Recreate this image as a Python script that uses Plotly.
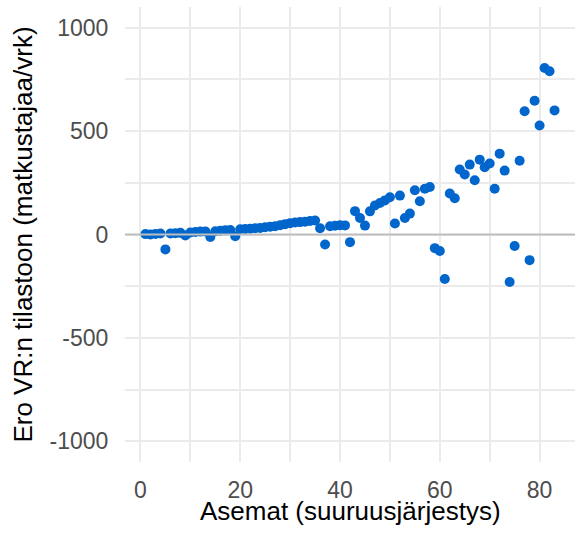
import plotly.graph_objects as go

asemat = list(range(1, 84))
ero = [2, 0, 3, 5, -72, 5, 6, 8, -5, 10,
       12, 14, 15, -12, 16, 18, 20, 22, -8, 25,
       27, 28, 30, 32, 35, 38, 40, 45, 50, 55,
       58, 60, 62, 65, 68, 30, -48, 40, 42, 45,
       44, -37, 113, 80, 43, 112, 140, 152, 165, 180,
       53, 188, 80, 101, 214, 161, 221, 230, -66, -80,
       -215, 198, 175, 314, 290, 338, 262, 362, 325, 343,
       221, 391, 309, -230, -56, 357, 596, -124, 647, 527,
       805, 789, 600]

x_ticks = [0, 20, 40, 60, 80]
x_labels = ["0", "20", "40", "60", "80"]
y_ticks = [-1000, -500, 0, 500, 1000]
y_labels = ["-1000", "-500", "0", "500", "1000"]

x_title = "Asemat (suuruusjärjestys)"
y_title = "Ero VR:n tilastoon (matkustajaa/vrk)"

fig = go.Figure()
fig.add_trace(go.Scatter(
    x=asemat, y=ero, mode="markers",
    marker=dict(color="#0066CC", size=10, line=dict(width=0)),
    hoverinfo="x+y", showlegend=False,
))

fig.add_shape(type="line", xref="paper", x0=0, x1=1, yref="y", y0=0, y1=0,
              line=dict(color="#BEBEBE", width=2), layer="above")

fig.add_annotation(text=x_title, xref="paper", yref="paper", x=0.5, y=-0.107,
                   xanchor="center", yanchor="middle", showarrow=False,
                   font=dict(size=26, color="black"))
fig.add_annotation(text=y_title, xref="paper", yref="paper", x=-0.2287, y=0.5,
                   xanchor="center", yanchor="middle", showarrow=False, textangle=-90,
                   font=dict(size=26, color="black"))

grid = "#EBEBEB"
fig.update_layout(
    width=575, height=536,
    margin=dict(l=125, r=0, t=7, b=74),
    paper_bgcolor="white", plot_bgcolor="white",
    font=dict(family="Liberation Sans, Arial, sans-serif"),
    xaxis=dict(
        range=[-3.1, 87.1], tickvals=x_ticks, ticktext=x_labels, automargin=False,
        showgrid=True, gridcolor=grid, gridwidth=2,
        minor=dict(dtick=10, tick0=0, showgrid=True, gridcolor=grid, gridwidth=1.6),
        zeroline=False, showline=False,
        ticks="outside", ticklen=7, tickcolor="rgba(0,0,0,0)",
        tickfont=dict(size=23, color="#4D4D4D"),
    ),
    yaxis=dict(
        range=[-1100, 1100], tickvals=y_ticks, ticktext=y_labels, automargin=False,
        showgrid=True, gridcolor=grid, gridwidth=2,
        minor=dict(dtick=250, tick0=0, showgrid=True, gridcolor=grid, gridwidth=1.6),
        zeroline=False, showline=False,
        ticks="outside", ticklen=11, tickcolor="rgba(0,0,0,0)",
        tickfont=dict(size=23, color="#4D4D4D"),
    ),
)

fig.write_html("out.html", config={"displayModeBar": False},
               post_script="document.body.style.margin='0';")
